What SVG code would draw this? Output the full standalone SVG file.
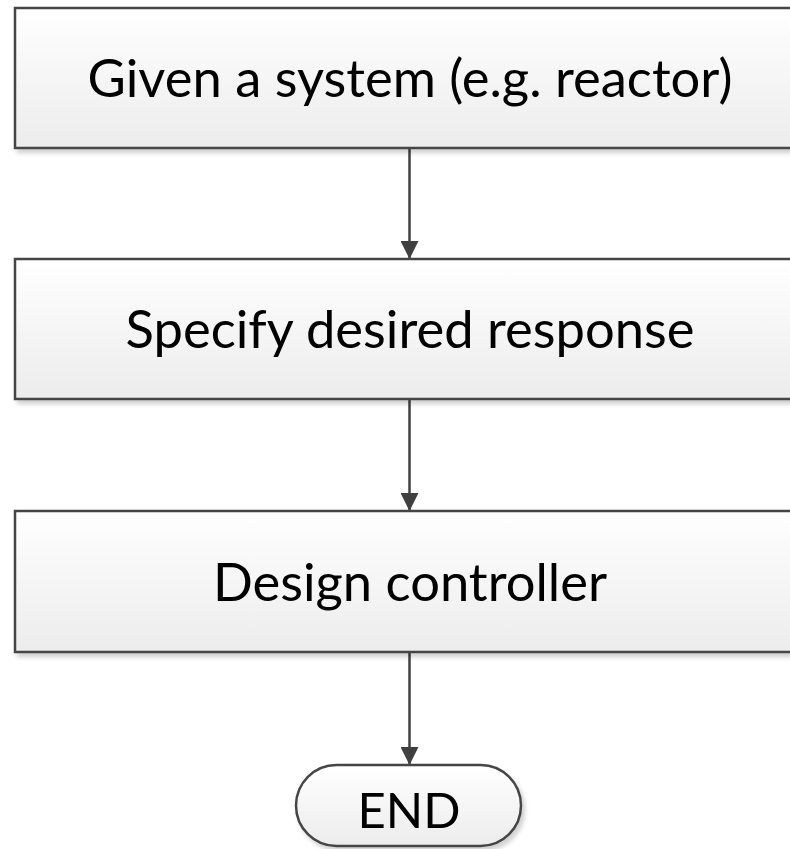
<svg xmlns="http://www.w3.org/2000/svg" width="790" height="849" viewBox="0 0 790 849">
<style>
.box{fill:url(#g);stroke:#454545;stroke-width:2.5}
.lbl{font-family:Lato,"Open Sans",sans-serif;font-size:52.5px;fill:#000;text-anchor:middle}
.con{stroke:#404040;stroke-width:2.5;fill:none;marker-end:url(#ah)}
</style>
<defs>
<linearGradient id="g" x1="0" y1="0" x2="0" y2="1">
<stop offset="0" stop-color="#ffffff"/>
<stop offset="1" stop-color="#ececec"/>
</linearGradient>
<filter id="sh" x="-10%" y="-20%" width="130%" height="150%">
<feGaussianBlur in="SourceAlpha" stdDeviation="2"/>
<feOffset dx="3" dy="4" result="b"/>
<feComponentTransfer><feFuncA type="linear" slope="0.18"/></feComponentTransfer>
<feMerge><feMergeNode/><feMergeNode in="SourceGraphic"/></feMerge>
</filter>
<marker id="ah" markerWidth="18" markerHeight="18" refX="18" refY="9" orient="auto" markerUnits="userSpaceOnUse">
<path d="M0,0 L18,9 L0,18 Z" fill="#404040"/>
</marker>
</defs>
<g id="connectors">
<line class="con" x1="409.5" y1="148" x2="409.5" y2="259"/>
<line class="con" x1="409.5" y1="399" x2="409.5" y2="511"/>
<line class="con" x1="409.5" y1="652" x2="409.5" y2="765"/>
</g>
<g id="n1" filter="url(#sh)">
<rect class="box" x="15" y="8" width="800" height="140"/>
<text class="lbl" x="410" y="96.5">Given a system (e.g. reactor)</text>
</g>
<g id="n2" filter="url(#sh)">
<rect class="box" x="15" y="259" width="800" height="140"/>
<text class="lbl" x="410" y="347.5">Specify desired response</text>
</g>
<g id="n3" filter="url(#sh)">
<rect class="box" x="15" y="511" width="800" height="141"/>
<text class="lbl" x="410" y="600.5">Design controller</text>
</g>
<g id="end" filter="url(#sh)">
<rect class="box" x="296" y="765" width="225" height="81" rx="40.5" ry="40.5"/>
<text class="lbl" x="409" y="828" style="font-size:49px">END</text>
</g>
</svg>
